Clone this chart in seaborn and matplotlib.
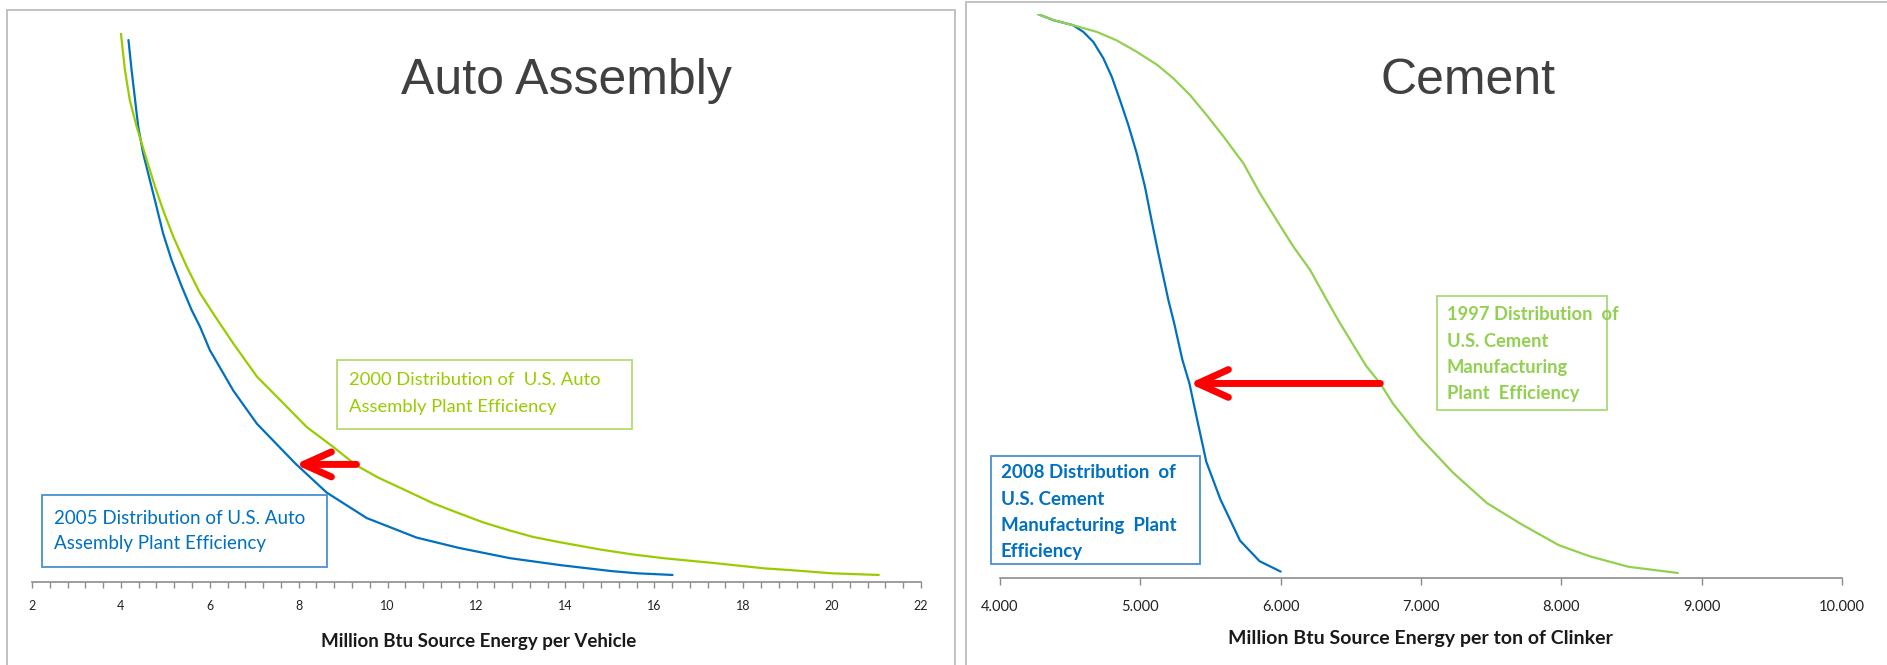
import matplotlib
matplotlib.use("Agg")
import numpy as np
import pandas as pd
import matplotlib.pyplot as plt
from matplotlib.patches import Rectangle
import seaborn as sns

# ----------------------------
# Data (y = share of plants, hidden axis, 0-100)
# ----------------------------
auto_2000_x = [4.00, 4.09, 4.20, 4.355, 4.58, 4.77, 4.95, 5.18, 5.48, 5.78, 6.12, 6.53, 7.06,
               7.58, 8.18, 8.78, 9.30, 9.78, 10.46, 11.03, 11.60, 12.15, 12.75, 13.28, 13.90,
               14.78, 15.50, 16.20, 17.34, 18.50, 19.05, 20.00, 21.05]
auto_2000_y = [100, 93.2, 87.6, 82.7, 76.6, 71.6, 67.3, 62.4, 56.9, 52.0, 47.7, 42.7, 36.6,
               32.3, 27.3, 23.6, 20.2, 18.0, 15.4, 13.2, 11.4, 9.7, 8.2, 7.0, 6.0,
               4.7, 3.8, 3.1, 2.2, 1.2, 0.9, 0.3, 0.0]

auto_2005_x = [4.17, 4.24, 4.32, 4.39, 4.50, 4.65, 4.80, 4.95, 5.14, 5.37, 5.59, 5.78, 6.00,
               6.53, 7.06, 7.92, 8.63, 9.53, 10.65, 11.60, 12.75, 13.90, 15.05, 15.63, 16.41]
auto_2005_y = [98.7, 93.2, 87.6, 82.7, 77.8, 72.9, 68.0, 63.0, 58.1, 53.2, 48.9, 45.8, 41.5,
               34.0, 27.9, 20.6, 15.2, 10.5, 6.9, 5.0, 3.1, 1.8, 0.7, 0.3, 0.0]

cement_1997_x = [4.27, 4.38, 4.52, 4.69, 4.83, 4.97, 5.12, 5.235, 5.354, 5.473, 5.592, 5.734,
                 5.853, 5.972, 6.09, 6.21, 6.316, 6.42, 6.61, 6.71, 6.80, 6.99, 7.23, 7.47,
                 7.71, 7.98, 8.20, 8.48, 8.83]
cement_1997_y = [100, 98.9, 98.0, 96.8, 95.3, 93.3, 90.9, 88.5, 85.5, 81.9, 78.1, 73.3,
                 67.9, 63.1, 58.4, 54.2, 49.4, 44.8, 37.0, 33.9, 30.3, 24.3, 17.9, 12.5,
                 8.8, 5.0, 3.0, 1.1, 0.0]

cement_2008_x = [4.27, 4.38, 4.52, 4.594, 4.665, 4.736, 4.796, 4.855, 4.915, 4.974, 5.033,
                 5.08, 5.128, 5.164, 5.20, 5.24, 5.30, 5.35, 5.40, 5.47, 5.57, 5.71, 5.85, 6.00]
cement_2008_y = [100, 98.9, 98.0, 96.8, 95.0, 92.1, 88.8, 84.6, 80.1, 75.1, 69.1,
                 63.1, 57.2, 53.0, 48.8, 44.8, 38.1, 33.9, 28.0, 19.9, 13.2, 5.8, 2.1, 0.25]

# arrows: (tail x, head x, y)
auto_arrow = [9.30, 7.92, 20.4]
cement_arrow = [6.71, 5.35, 33.9]

auto_ticks = [2, 4, 6, 8, 10, 12, 14, 16, 18, 20, 22]
cement_ticks = [4, 5, 6, 7, 8, 9, 10]
cement_tick_labels = ["4.000", "5.000", "6.000", "7.000", "8.000", "9.000", "10.000"]

auto_2000_label = ["2000 Distribution of  U.S. Auto", "Assembly Plant Efficiency"]
auto_2005_label = ["2005 Distribution of U.S. Auto", "Assembly Plant Efficiency"]
cement_1997_label = ["1997 Distribution  of", "U.S. Cement", "Manufacturing", "Plant  Efficiency"]
cement_2008_label = ["2008 Distribution  of", "U.S. Cement", "Manufacturing  Plant", "Efficiency"]

# ----------------------------
# Style
# ----------------------------
sns.set_style("white")
plt.rcParams["font.family"] = ["Liberation Sans", "DejaVu Sans"]
SMALL = ["Lato", "DejaVu Sans"]

GREEN_A = "#99CC00"
GREEN_C = "#92D050"
BLUE = "#0070C0"
GRAY = "#8C8C8C"

W, H = 1887, 665
fig = plt.figure(figsize=(W / 100, H / 100), dpi=100)


def fx(px):
    return px / W


def fy(py):
    return 1 - py / H


def add_px_axes(x0, x1, y_top, y_bot):
    return fig.add_axes([fx(x0), fy(y_bot), (x1 - x0) / W, (y_bot - y_top) / H])


def box(x0, y0, x1, y1, color):
    fig.add_artist(Rectangle((fx(x0), fy(y1)), (x1 - x0) / W, (y1 - y0) / H,
                             transform=fig.transFigure, fill=False, ec=color, lw=1.3))


def lines_text(lines, x, y0, step, color, size, weight):
    for i, s in enumerate(lines):
        fig.text(fx(x), fy(y0 + i * step), s, color=color, fontsize=size, weight=weight,
                 ha="left", va="center", family=SMALL)


# panel frames
box(7, 10, 955, 720, "#BDBDBD")
box(966, 2, 1950, 720, "#BDBDBD")

# ----------------------------
# Left panel: Auto Assembly
# ----------------------------
ax1 = add_px_axes(32, 921, 33, 582)
df_a = pd.concat([
    pd.DataFrame({"energy": auto_2000_x, "share": auto_2000_y, "series": "2000"}),
    pd.DataFrame({"energy": auto_2005_x, "share": auto_2005_y, "series": "2005"}),
])
sns.lineplot(data=df_a, x="energy", y="share", hue="series", hue_order=["2005", "2000"],
             palette={"2000": GREEN_A, "2005": BLUE}, sort=False, estimator=None,
             linewidth=1.6, legend=False, ax=ax1)
ax1.set_xlim(2, 22)
ax1.set_ylim(-1.3, 100)
ax1.set_xticks(auto_ticks)
ax1.set_xticklabels([str(t) for t in auto_ticks], family=SMALL)
ax1.set_xticks(np.arange(2, 22.01, 0.4), minor=True)

ax1.annotate("", xy=(auto_arrow[1], auto_arrow[2]), xytext=(auto_arrow[0], auto_arrow[2]),
             arrowprops=dict(arrowstyle="->,head_length=2.0,head_width=0.9", color="red",
                             lw=5, shrinkA=0, shrinkB=0, mutation_scale=10,
                             capstyle="round", joinstyle="round"))

# ----------------------------
# Right panel: Cement
# ----------------------------
ax2 = add_px_axes(1000, 1842, 14, 578)
df_c = pd.concat([
    pd.DataFrame({"energy": cement_1997_x, "share": cement_1997_y, "series": "1997"}),
    pd.DataFrame({"energy": cement_2008_x, "share": cement_2008_y, "series": "2008"}),
])
sns.lineplot(data=df_c, x="energy", y="share", hue="series", hue_order=["2008", "1997"],
             palette={"1997": GREEN_C, "2008": BLUE}, sort=False, estimator=None,
             linewidth=1.6, legend=False, ax=ax2)
ax2.set_xlim(4, 10)
ax2.set_ylim(-0.9, 100)
ax2.set_xticks(cement_ticks)
ax2.set_xticklabels(cement_tick_labels, family=SMALL)

ax2.annotate("", xy=(cement_arrow[1], cement_arrow[2]), xytext=(cement_arrow[0], cement_arrow[2]),
             arrowprops=dict(arrowstyle="->,head_length=2.2,head_width=1.0", color="red",
                             lw=5, shrinkA=0, shrinkB=0, mutation_scale=10,
                             capstyle="round", joinstyle="round"))

for ax in (ax1, ax2):
    ax.set_facecolor("none")
    for side in ("left", "right", "top"):
        ax.spines[side].set_visible(False)
    ax.spines["bottom"].set_color(GRAY)
    ax.spines["bottom"].set_linewidth(1.2)
    ax.set_yticks([])
    ax.set_ylabel("")
    ax.tick_params(axis="x", which="both", direction="out", length=4, width=1,
                   color=GRAY, labelsize=9, labelcolor="#222222", bottom=True)

ax1.tick_params(axis="x", which="both", pad=9)
ax2.tick_params(axis="x", which="major", length=5, pad=11, labelsize=10.5)

ax1.set_xlabel("Million Btu Source Energy per Vehicle", fontsize=13.5, weight="bold",
               color="#1a1a1a", family=SMALL)
ax1.xaxis.set_label_coords(0.502, -0.093)
ax2.set_xlabel("Million Btu Source Energy per ton of Clinker", fontsize=14, weight="bold",
               color="#1a1a1a", family=SMALL)
ax2.xaxis.set_label_coords(0.499, -0.092)

# titles
fig.text(fx(566), fy(94), "Auto Assembly", fontsize=36, color="#404040",
         ha="center", va="baseline")
fig.text(fx(1468), fy(94), "Cement", fontsize=36, color="#404040",
         ha="center", va="baseline")

# text boxes
box(337, 360, 632, 429, "#B4DC6E")
lines_text(auto_2000_label, 349, 380, 27, GREEN_A, 13.2, "normal")
box(42, 495, 327, 567, "#4A90D2")
lines_text(auto_2005_label, 54, 518, 26, BLUE, 13.5, "normal")

box(1437, 296, 1607, 410, "#A9D97A")
lines_text(cement_1997_label, 1447, 315, 26.3, GREEN_C, 13.2, "bold")
box(991, 456, 1200, 564, "#4A90D2")
lines_text(cement_2008_label, 1001, 473, 26.3, BLUE, 13.5, "bold")

fig.savefig("out.png", dpi=100, facecolor="white")
